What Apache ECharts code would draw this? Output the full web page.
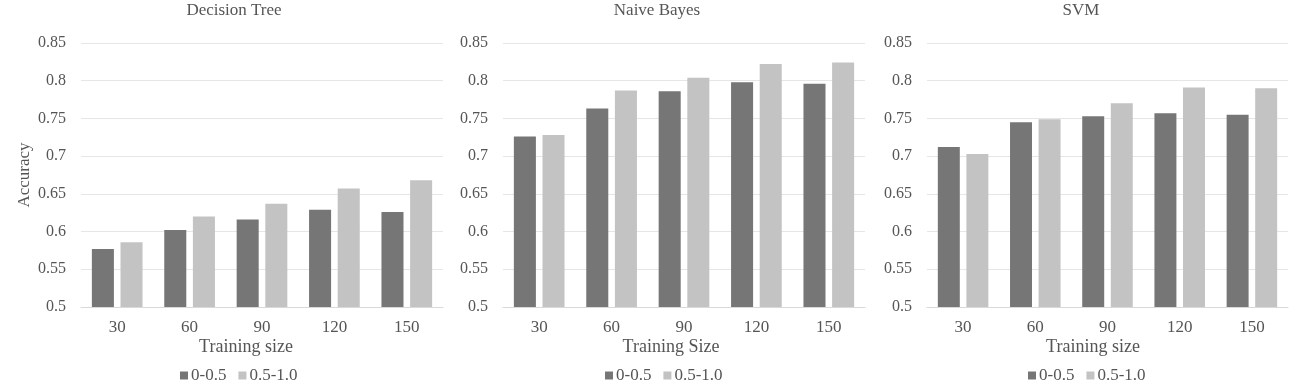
<!DOCTYPE html>
<html>
<head>
<meta charset="utf-8">
<script src="https://cdn.jsdelivr.net/npm/echarts@6/dist/echarts.min.js"></script>
<style>
html,body{margin:0;padding:0;background:#fff;}
#main{width:1315px;height:387px;}
</style>
</head>
<body>
<div id="main"></div>
<script>
const categories = ['30', '60', '90', '120', '150'];
const seriesNames = ['0-0.5', '0.5-1.0'];
const panelTitles = ['Decision Tree', 'Naive Bayes', 'SVM'];
const xAxisNames = ['Training size', 'Training Size', 'Training size'];
const yTicks = [0.5, 0.55, 0.6, 0.65, 0.7, 0.75, 0.8, 0.85];

const dtLow  = [0.577, 0.602, 0.616, 0.629, 0.626];
const dtHigh = [0.586, 0.620, 0.637, 0.657, 0.668];
const nbLow  = [0.726, 0.763, 0.786, 0.798, 0.796];
const nbHigh = [0.728, 0.787, 0.804, 0.822, 0.824];
const svmLow  = [0.712, 0.745, 0.753, 0.757, 0.755];
const svmHigh = [0.703, 0.749, 0.770, 0.791, 0.790];

const panelData = [[dtLow, dtHigh], [nbLow, nbHigh], [svmLow, svmHigh]];

const FONT = '"Liberation Serif", "Times New Roman", serif';
const TXT = '#555555';
const colors = ['#767676', '#c3c3c3'];

const grids = [
  {left: 81, top: 43, width: 362, height: 264},
  {left: 503, top: 43, width: 362, height: 264},
  {left: 927, top: 43, width: 361, height: 264}
];
const titleCenters = [234, 657, 1081];
const xNameCenters = [246, 671, 1093];
const legendLefts = [175, 600, 1023];

const option = {
  animation: false,
  backgroundColor: '#ffffff',
  textStyle: {fontFamily: FONT},
  grid: grids,
  xAxis: grids.map((g, i) => ({
    type: 'category', gridIndex: i, data: categories,
    axisTick: {show: false},
    axisLine: {lineStyle: {color: '#d9d9d9'}},
    axisLabel: {color: TXT, fontFamily: FONT, fontSize: 17, margin: 12}
  })),
  yAxis: grids.map((g, i) => ({
    type: 'value', gridIndex: i, min: 0.5, max: 0.85, interval: 0.05,
    axisLine: {show: false}, axisTick: {show: false},
    splitLine: {lineStyle: {color: '#e6e6e6'}},
    axisLabel: {color: TXT, fontFamily: FONT, fontSize: 16, margin: 15,
      formatter: v => String(parseFloat(v.toFixed(2)))},
    name: i === 0 ? 'Accuracy' : '',
    nameLocation: 'middle', nameGap: 48, nameRotate: 90,
    nameTextStyle: {color: TXT, fontFamily: FONT, fontSize: 17}
  })),
  legend: legendLefts.map(l => ({
    left: l, top: 362, data: seriesNames, itemWidth: 8, itemHeight: 8, itemGap: 12,
    icon: 'rect', selectedMode: false,
    textStyle: {color: TXT, fontFamily: FONT, fontSize: 17, padding: [0, 0, 0, -2]}
  })),
  graphic: [
    ...panelTitles.map((t, i) => ({
      type: 'text', x: titleCenters[i], y: 11,
      style: {text: t, fill: TXT, font: '17px ' + FONT, textAlign: 'center', textVerticalAlign: 'middle'}
    })),
    ...xAxisNames.map((t, i) => ({
      type: 'text', x: xNameCenters[i], y: 347,
      style: {text: t, fill: TXT, font: '18px ' + FONT, textAlign: 'center', textVerticalAlign: 'middle'}
    }))
  ],
  series: []
};

panelData.forEach((pd, i) => {
  pd.forEach((vals, j) => {
    option.series.push({
      type: 'bar', name: seriesNames[j], xAxisIndex: i, yAxisIndex: i,
      data: vals, barCategoryGap: '30%', barGap: '30%',
      itemStyle: {color: colors[j]}
    });
  });
});

const chart = echarts.init(document.getElementById('main'), null, {renderer: 'canvas'});
chart.setOption(option);
</script>
</body>
</html>
